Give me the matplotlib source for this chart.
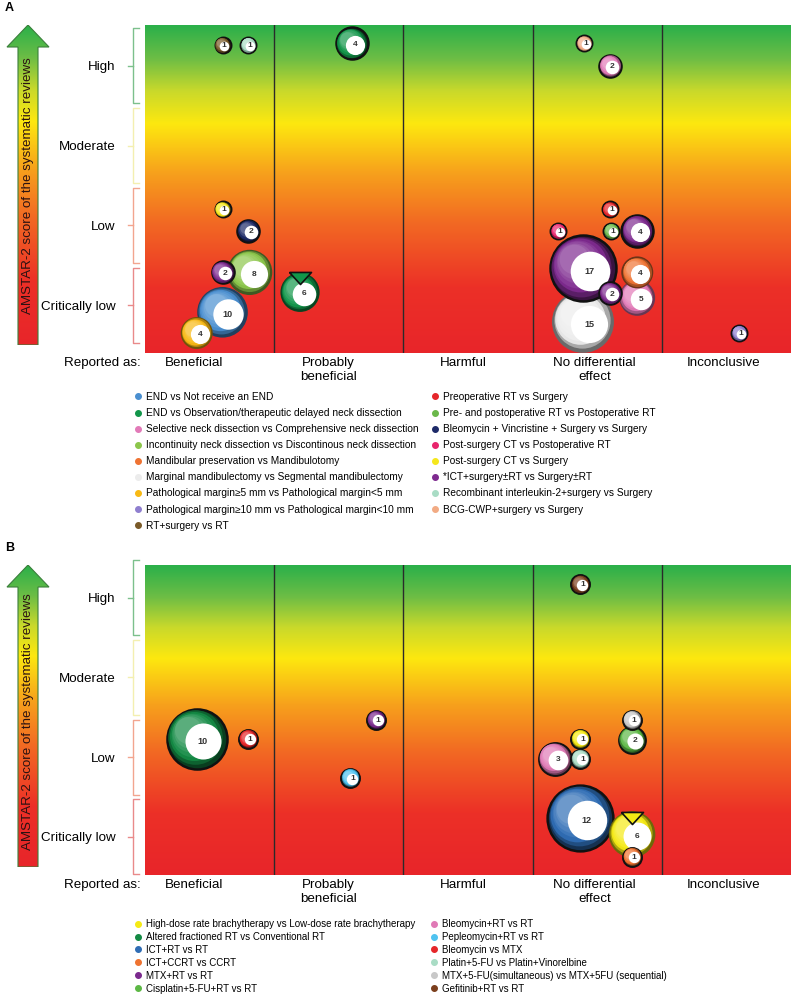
import numpy as np
import matplotlib
matplotlib.use('Agg')
import matplotlib.pyplot as plt
from matplotlib.colors import LinearSegmentedColormap, to_rgb
from matplotlib.patches import Polygon
from matplotlib.lines import Line2D
from matplotlib.transforms import offset_copy, blended_transform_factory

plt.rcParams['font.family'] = ['Liberation Sans', 'DejaVu Sans']

W, H = 792, 998
fig = plt.figure(figsize=(W / 100, H / 100), dpi=100)

columns = ['Beneficial', 'Probably\nbeneficial', 'Harmful', 'No differential\neffect', 'Inconclusive']
levels = ['Critically low', 'Low', 'Moderate', 'High']
ylabel = 'AMSTAR-2 score of the systematic reviews'

# ---- panel A data
a_labels = ['END vs Not receive an END',
            'END vs Observation/therapeutic delayed neck dissection',
            'Selective neck dissection vs Comprehensive neck dissection',
            'Incontinuity neck dissection vs Discontinous neck dissection',
            'Mandibular preservation vs Mandibulotomy',
            'Marginal mandibulectomy vs Segmental mandibulectomy',
            'Pathological margin\u22655 mm vs Pathological margin<5 mm',
            'Pathological margin\u226510 mm vs Pathological margin<10 mm',
            'RT+surgery vs RT',
            'Preoperative RT vs Surgery',
            'Pre- and postoperative RT vs Postoperative RT',
            'Bleomycin + Vincristine + Surgery vs Surgery',
            'Post-surgery CT vs Postoperative RT',
            'Post-surgery CT vs Surgery',
            '*ICT+surgery\u00b1RT vs Surgery\u00b1RT',
            'Recombinant interleukin-2+surgery vs Surgery',
            'BCG-CWP+surgery vs Surgery']
a_colors = ['#4a8fd0', '#12964a', '#e27ab8', '#8cc64b', '#ef7332', '#ececec',
            '#f8b914', '#8f7fcf', '#7a5a28', '#e5262a', '#6ab84a', '#1d2a68',
            '#e8246c', '#f5e71c', '#7e2a8f', '#a9dcc5', '#f2ab84']
# column position (0-5), AMSTAR level position (1-4), number of reviews, category
a_x = [0.60, 0.80, 1.60, 0.60, 0.80, 0.81, 0.60, 0.60, 0.40, 1.20,
       3.40, 3.60, 3.60, 3.20, 3.61, 3.81, 3.39, 3.39, 3.81, 3.81, 3.60, 4.60]
a_y = [4.26, 4.26, 4.28, 2.20, 1.93, 1.41, 1.41, 0.91, 0.65, 1.16,
       4.28, 4.00, 2.20, 1.93, 1.93, 1.93, 0.79, 1.46, 1.09, 1.41, 1.15, 0.65]
a_n = [1, 1, 4, 1, 2, 8, 2, 10, 4, 6,
       1, 2, 1, 1, 1, 4, 15, 17, 5, 4, 2, 1]
a_cat = [8, 15, 1, 13, 11, 3, 14, 0, 6, 1,
         16, 2, 9, 12, 10, 14, 5, 14, 2, 4, 14, 7]
a_flag = 9  # bubble carrying the triangle marker

# ---- panel B data
b_labels = ['High-dose rate brachytherapy vs Low-dose rate brachytherapy',
            'Altered fractioned RT vs Conventional RT',
            'ICT+RT vs RT',
            'ICT+CCRT vs CCRT',
            'MTX+RT vs RT',
            'Cisplatin+5-FU+RT vs RT',
            'Bleomycin+RT vs RT',
            'Pepleomycin+RT vs RT',
            'Bleomycin vs MTX',
            'Platin+5-FU vs Platin+Vinorelbine',
            'MTX+5-FU(simultaneous) vs MTX+5FU (sequential)',
            'Gefitinib+RT vs RT']
b_colors = ['#f5ea14', '#138a44', '#2f6db5', '#ef7330', '#7b2a8e', '#5cb845',
            '#e07ab6', '#4fc3f0', '#e5262a', '#a9dcc5', '#c8c8c8', '#7b3f1d']
b_x = [0.40, 0.80, 1.79, 1.59, 3.37, 3.77, 3.77, 3.37, 3.17, 3.37, 3.37, 3.77, 3.77]
b_y = [2.23, 2.23, 2.47, 1.74, 4.17, 2.22, 2.47, 2.23, 1.98, 1.98, 1.24, 1.03, 0.75]
b_n = [10, 1, 1, 1, 1, 2, 1, 1, 3, 1, 12, 6, 1]
b_cat = [1, 8, 4, 7, 11, 5, 10, 0, 6, 9, 2, 0, 3]
b_flag = 11

# styling
a_plain = {5, 7, 8, 9, 16, 18, 19}
b_plain = {11}

grad = LinearSegmentedColormap.from_list('amstar', [
    (0.00, '#e8252a'), (0.20, '#ec3027'), (0.40, '#f26a23'), (0.55, '#f7a11c'),
    (0.70, '#fde80f'), (0.80, '#c9d92b'), (0.90, '#6cbd45'), (1.00, '#2bb04a')])
bracket_cols = ['#e98a8a', '#f2a58f', '#f3efb0', '#7cc08c']


def px_axes(l, t, r, b):
    return fig.add_axes([l / W, 1 - b / H, (r - l) / W, (b - t) / H])


def ball(ax, x, y, n, color, k, outline, fs):
    s = n * k
    r = np.sqrt(s) / 2
    base = np.array(to_rgb(color))
    dark = base * 0.45
    light = base + (1 - base) * 0.3
    ax.scatter([x], [y], s=s, color=dark, edgecolors='#111111' if outline else 'none',
               linewidths=(1.4 if n < 4 else 1.8) if outline else 0, zorder=3)
    for t in np.linspace(0, 1, 7)[1:]:
        f = 1 - 0.55 * t
        if t <= 0.35:
            c = dark * (1 - t / 0.35) + base * (t / 0.35)
        else:
            c = base * (1 - (t - 0.35) / 0.65) + light * ((t - 0.35) / 0.65)
        tr = offset_copy(ax.transData, fig=fig, x=-(1 - f) * r * 0.5, y=(1 - f) * r * 0.5, units='points')
        ax.scatter([x], [y], s=s * f * f, color=np.clip(c, 0, 1), linewidths=0, transform=tr, zorder=3)
    tr = offset_copy(ax.transData, fig=fig, x=0.2 * r, y=-0.08 * r, units='points')
    ax.scatter([x], [y], s=s * 0.36, color='white', linewidths=0, transform=tr, zorder=3)
    ax.text(x, y, str(n), transform=tr, ha='center', va='center', fontsize=fs,
            fontweight='bold', color='#333333', zorder=3)


def panel(top, bottom, ylim, bx, by, bn, bcat, colors, k, plain, flag, flag_y, letter, arrow_text_y):
    ax = px_axes(145, top, 791, bottom)
    ax.imshow(np.linspace(1, 0, 256)[:, None], cmap=grad, aspect='auto',
              extent=(0, 5, ylim[0], ylim[1]), origin='upper', zorder=0)
    ax.set_xlim(0, 5)
    ax.set_ylim(*ylim)
    for xv in range(1, 5):
        ax.axvline(xv, color='#2a2a2a', lw=1.0, zorder=1)
    for sp in ax.spines.values():
        sp.set_visible(False)

    for i in range(len(bn)):
        ball(ax, bx[i], by[i], bn[i], colors[bcat[i]], k, i not in plain, 6.5 if bn[i] >= 10 else 6)
        if i == flag:
            ax.scatter([bx[i]], [flag_y], s=250, marker=[(-1, 0.55), (1, 0.55), (0, -0.55), (-1, 0.55)],
                       color=colors[bcat[i]], edgecolors='#111111', linewidths=1.2, zorder=3)

    # level labels + brackets
    ax.set_yticks([1, 2, 3, 4], levels, fontsize=9.6)
    ax.tick_params(axis='y', length=0, pad=21)
    bt = blended_transform_factory(ax.transAxes, ax.transData)
    for lv, c in zip([1, 2, 3, 4], bracket_cols):
        x0, x1, xm = -0.0186, -0.0095, -0.0265
        ax.plot([x1, x0, x0, x1], [lv - 0.47, lv - 0.47, lv + 0.47, lv + 0.47], color=c, lw=1,
                transform=bt, clip_on=False)
        ax.plot([xm, x0], [lv, lv], color=c, lw=1, transform=bt, clip_on=False)

    # column labels
    ax.set_xticks([0.38, 1.42, 2.46, 3.48, 4.48], columns, fontsize=9.6)
    ax.tick_params(axis='x', length=0, pad=3)
    ax.text(-0.006, -0.012, 'Reported as:', transform=ax.transAxes, ha='right', va='top', fontsize=9.6)

    # arrow
    aa = px_axes(0, top, 60, bottom - 8)
    aa.set_xlim(0, 60)
    aa.set_ylim(bottom - 8, top)
    aa.axis('off')
    hb = top + 22
    verts = [(28, top), (49, hb), (38, hb), (38, bottom - 8), (18, bottom - 8), (18, hb), (7, hb)]
    im = aa.imshow(np.linspace(1, 0, 256)[:, None], cmap=grad, aspect='auto',
                   extent=(0, 60, bottom - 8, top), origin='upper')
    poly = Polygon(verts, closed=True, fc='none', ec='#3b7f3b', lw=0.8)
    aa.add_patch(poly)
    im.set_clip_path(poly)
    aa.text(28, arrow_text_y, ylabel, rotation=90, ha='center', va='center', fontsize=9.6, color='#2a1212')
    fig.text(5 / W, 1 - (top - 17) / H, letter, fontsize=9, fontweight='bold', va='center')
    return ax


panel(25, 353, (0.40, 4.51), a_x, a_y, a_n, a_cat, a_colors, 132.7, a_plain, a_flag, 1.34, 'A', 186)
panel(565, 875, (0.52, 4.41), b_x, b_y, b_n, b_cat, b_colors, 187.0, b_plain, b_flag, 1.23, 'B', 722)


def legend(labels, colors, top, fs, spacing, colsp):
    handles = [Line2D([], [], ls='none', marker='o', ms=4, color=c) for c in colors]
    fig.legend(handles, labels, loc='upper left', bbox_to_anchor=(134 / W, 1 - top / H),
               ncol=2, frameon=False, fontsize=fs, borderpad=0, borderaxespad=0,
               handlelength=0.8, handletextpad=0.4, labelspacing=spacing, columnspacing=colsp)


legend(a_labels, a_colors, 392, 7.3, 0.6, 1.2)
legend(b_labels, b_colors, 919, 7.0, 0.3, 1.6)

fig.savefig('out.png', dpi=100)
